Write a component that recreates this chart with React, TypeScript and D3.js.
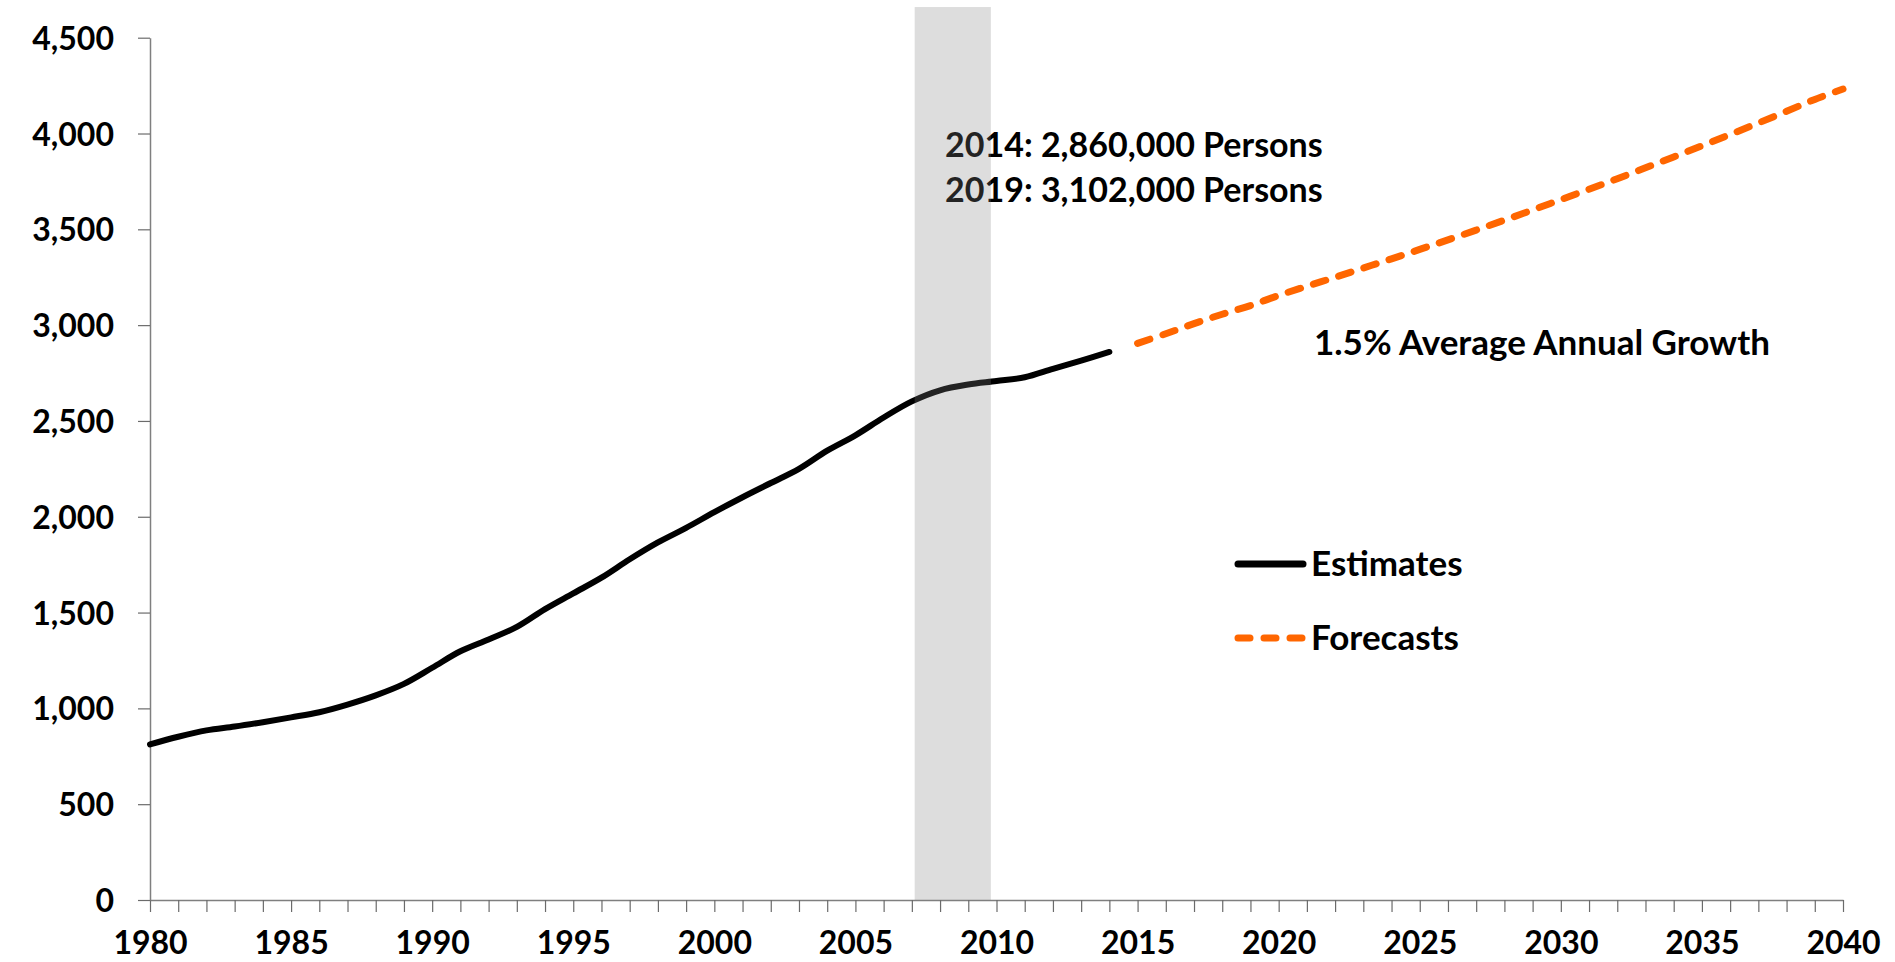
import { useEffect, useRef } from 'react';
import * as d3 from 'd3';

// ── Data (thousands of persons) ─────────────────────────
const EST_YEARS = [
  1980, 1981, 1982, 1983, 1984, 1985, 1986, 1987, 1988, 1989,
  1990, 1991, 1992, 1993, 1994, 1995, 1996, 1997, 1998, 1999,
  2000, 2001, 2002, 2003, 2004, 2005, 2006, 2007, 2008, 2009,
  2010, 2011, 2012, 2013, 2014,
];
const EST_VALUES = [
  812, 852, 885, 905, 928, 953, 980, 1020, 1068, 1128,
  1212, 1298, 1360, 1425, 1518, 1600, 1682, 1778, 1866, 1942,
  2024, 2102, 2176, 2250, 2345, 2425, 2518, 2602, 2660, 2690,
  2708, 2728, 2772, 2815, 2860,
];
const FC_YEARS = [
  2015, 2016, 2017, 2018, 2019, 2020, 2021, 2022, 2023, 2024,
  2025, 2026, 2027, 2028, 2029, 2030, 2031, 2032, 2033, 2034,
  2035, 2036, 2037, 2038, 2039, 2040,
];
const FC_VALUES = [
  2905, 2955, 3008, 3057, 3102, 3155, 3203, 3250, 3298, 3346,
  3395, 3445, 3496, 3548, 3601, 3655, 3709, 3764, 3821, 3878,
  3936, 3995, 4055, 4116, 4178, 4232,
];
const Y_TICKS = [0, 500, 1000, 1500, 2000, 2500, 3000, 3500, 4000, 4500];
const X_LABELS = [1980, 1985, 1990, 1995, 2000, 2005, 2010, 2015, 2020, 2025, 2030, 2035, 2040];
const RECESSION = [2007.1, 2009.8];
const BAND_TOP = 4660;
const NOTES = ['2014: 2,860,000 Persons', '2019: 3,102,000 Persons'];
const GROWTH_NOTE = '1.5% Average Annual Growth';
const LEGEND = [
  { label: 'Estimates', color: '#000000', dash: null },
  { label: 'Forecasts', color: '#ff6600', dash: '12,14' },
];

const FONT = 'Lato, "Open Sans", sans-serif';
const W = 1895;
const H = 962;

export default function App() {
  const svgRef = useRef(null);

  useEffect(() => {
    document.body.style.margin = '0';
    const svg = d3.select(svgRef.current);
    svg.selectAll('*').remove();

    const x = d3.scaleLinear().domain([1980, 2040]).range([150, 1843]);
    const y = d3.scaleLinear().domain([0, 4500]).range([900, 37.7]);

    // X axis: tick every year, label every 5 years
    const allYears = d3.range(1980, 2041);
    const gx = svg.append('g').attr('transform', `translate(0,${y(0)})`)
      .call(d3.axisBottom(x).tickValues(allYears).tickSize(12).tickSizeOuter(0)
        .tickFormat(d => (X_LABELS.includes(d) ? String(d) : '')));
    gx.select('.domain').attr('stroke', '#7f7f7f').attr('stroke-width', 1.5);
    gx.selectAll('.tick line').attr('stroke', '#6b6b6b').attr('stroke-width', 1.2);
    gx.selectAll('.tick text')
      .attr('y', 54).attr('dy', 0)
      .attr('fill', '#000').attr('font-family', FONT).attr('font-weight', 700).attr('font-size', 32);

    // Y axis
    const gy = svg.append('g').attr('transform', `translate(${x(1980)},0)`)
      .call(d3.axisLeft(y).tickValues(Y_TICKS).tickSize(12).tickSizeOuter(0).tickFormat(d3.format(',')));
    gy.select('.domain').attr('stroke', '#7f7f7f').attr('stroke-width', 1.5);
    gy.selectAll('.tick line').attr('stroke', '#6b6b6b').attr('stroke-width', 1.2);
    gy.selectAll('.tick text')
      .attr('x', -36).attr('dy', '0.36em')
      .attr('fill', '#000').attr('font-family', FONT).attr('font-weight', 700).attr('font-size', 32);

    const line = d3.line().curve(d3.curveCatmullRom.alpha(0.5)).x(d => x(d[0])).y(d => y(d[1]));

    svg.append('path')
      .datum(EST_YEARS.map((yr, i) => [yr, EST_VALUES[i]]))
      .attr('d', line)
      .attr('fill', 'none').attr('stroke', '#000').attr('stroke-width', 6)
      .attr('stroke-linecap', 'round').attr('stroke-linejoin', 'round');

    svg.append('path')
      .datum(FC_YEARS.map((yr, i) => [yr, FC_VALUES[i]]))
      .attr('d', line)
      .attr('fill', 'none').attr('stroke', '#ff6600').attr('stroke-width', 7)
      .attr('stroke-dasharray', '13,13.5').attr('stroke-linecap', 'round');

    // Annotations
    NOTES.forEach((t, i) => {
      svg.append('text')
        .attr('x', 945).attr('y', 157 + i * 45)
        .attr('font-family', FONT).attr('font-weight', 700).attr('font-size', 34)
        .attr('fill', '#000').text(t);
    });
    svg.append('text')
      .attr('x', 1314).attr('y', 355)
      .attr('font-family', FONT).attr('font-weight', 700).attr('font-size', 35)
      .attr('fill', '#000').text(GROWTH_NOTE);

    // Recession band (semi-transparent, on top)
    svg.append('rect')
      .attr('x', x(RECESSION[0])).attr('y', y(BAND_TOP))
      .attr('width', x(RECESSION[1]) - x(RECESSION[0]))
      .attr('height', y(0) - y(BAND_TOP))
      .attr('fill', '#808080').attr('fill-opacity', 0.27);

    // Legend
    LEGEND.forEach((l, i) => {
      const ly = 564 + i * 74;
      svg.append('line')
        .attr('x1', 1238).attr('x2', 1303).attr('y1', ly).attr('y2', ly)
        .attr('stroke', l.color).attr('stroke-width', 7)
        .attr('stroke-linecap', 'round')
        .attr('stroke-dasharray', l.dash);
      svg.append('text')
        .attr('x', 1311).attr('y', ly + 12)
        .attr('font-family', FONT).attr('font-weight', 700).attr('font-size', 35)
        .attr('fill', '#000').text(l.label);
    });
  }, []);

  return (
    <div style={{ width: W, height: H, background: '#fff', overflow: 'hidden' }}>
      <svg ref={svgRef} width={W} height={H} style={{ display: 'block' }} />
    </div>
  );
}
